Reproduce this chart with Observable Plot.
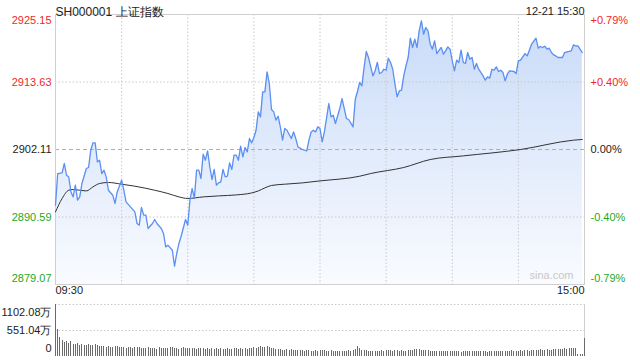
<!DOCTYPE html>
<html><head><meta charset="utf-8">
<script src="https://cdn.jsdelivr.net/npm/d3@7"></script>
<script src="https://cdn.jsdelivr.net/npm/@observablehq/plot@0.6"></script>
<style>
body{margin:0;background:#fff;font-family:"Liberation Sans",Arial,sans-serif;}
#wrap{position:relative;width:640px;height:360px;overflow:hidden;background:#fff}
#price{position:absolute;left:0;top:0}
#vol{position:absolute;left:0;top:300px}
</style></head><body><div id="wrap"><div id="price"></div><div id="vol"></div></div>
<script>
const title = "SH000001 上证指数";
const stamp = "12-21 15:30";
const watermark = "sina.com";
const prevClose = 2902.11;
const priceTicks = [2879.07, 2890.59, 2902.11, 2913.63, 2925.15];
const timeLabels = ["09:30", "15:00"];
const volTicks = [0, 551.04, 1102.08];

// minute index: 0 = 09:30, 120 = 11:30/13:00, 240 = 15:00
const minutes = [0,1,3,4,5,6,7,8,9,10,11,12,14,15,16,17,18,19,20,21,22,23,24,26,27,28,30,31,32,34,36,37,38,39,40,41,42,44,45,46,48,49,50,51,53,54,55,56,57,59,60,61,62,63,64,65,66,67,68,69,70,71,72,73,74,75,76,77,78,79,80,81,82,83,84,85,86,87,88,89,90,91,92,93,94,95,96,97,98,99,100,101,102,103,104,105,107,108,109,110,112,114,115,116,117,118,119,120,
121,122,124,125,126,127,129,130,132,133,135,136,137,138,139,140,141,142,144,145,146,147,148,149,150,151,152,153,154,155,156,157,158,159,160,161,162,163,164,165,166,167,168,169,170,171,172,173,175,176,177,178,179,180,181,182,183,184,185,186,187,188,189,190,191,192,194,195,196,197,198,199,200,201,202,203,204,205,206,208,209,210,211,212,213,214,215,216,218,219,220,221,222,223,224,225,226,227,228,229,230,231,233,234,235,236,237,239];
const prices = [2892.60,2898.01,2898.12,2899.72,2897.72,2897.43,2894.87,2894.02,2896.02,2893.46,2894.02,2896.31,2898.87,2899.04,2901.99,2903.24,2903.24,2899.99,2900.28,2898.01,2898.58,2897.43,2895.16,2894.31,2892.89,2894.87,2896.87,2895.16,2893.17,2892.31,2891.46,2889.48,2889.19,2892.21,2890.90,2890.90,2888.63,2889.48,2890.16,2889.48,2888.63,2887.77,2885.49,2885.78,2884.92,2882.19,2884.36,2886.07,2887.31,2890.16,2889.20,2893.46,2895.45,2893.75,2898.58,2898.58,2897.16,2901.31,2900.28,2901.87,2899.14,2896.99,2898.70,2896.02,2896.41,2896.58,2898.70,2897.43,2897.55,2899.82,2898.70,2901.14,2901.14,2900.28,2902.67,2900.85,2902.45,2901.70,2903.99,2903.24,2904.16,2905.40,2908.53,2907.67,2911.94,2911.94,2915.35,2913.37,2908.94,2908.53,2907.11,2907.79,2905.97,2903.70,2905.69,2905.40,2903.99,2905.11,2903.99,2902.55,2902.11,2901.87,2903.70,2905.11,2905.40,2905.11,2905.97,2905.69,
2903.41,2905.11,2909.96,2907.67,2907.96,2906.55,2909.11,2910.81,2907.40,2907.23,2905.97,2910.64,2912.01,2913.54,2912.96,2916.10,2918.84,2917.81,2914.67,2915.52,2916.96,2915.08,2915.25,2915.81,2915.64,2917.69,2916.96,2915.81,2913.25,2911.09,2912.11,2912.23,2914.67,2916.38,2917.81,2921.11,2919.52,2920.93,2919.52,2922.35,2924.06,2921.79,2922.93,2922.35,2920.08,2919.23,2920.64,2918.49,2919.52,2918.37,2918.94,2919.62,2919.23,2917.23,2915.52,2917.35,2916.96,2919.06,2916.96,2916.79,2918.66,2917.52,2917.81,2915.81,2916.79,2915.81,2914.67,2913.94,2914.50,2914.28,2915.81,2915.64,2916.21,2915.42,2915.64,2915.25,2913.82,2914.96,2915.52,2915.42,2915.08,2917.23,2917.35,2917.91,2918.49,2918.08,2919.06,2920.08,2921.11,2919.40,2919.69,2919.52,2919.74,2919.23,2919.40,2918.66,2918.26,2918.08,2917.81,2917.81,2917.81,2918.66,2918.84,2918.94,2919.96,2919.79,2919.79,2918.66];

const avgMinutes = [0,3,6,8,14,17,20,24,30,36,45,51,56,60,67,74,82,89,92,95,98,104,112,120,138,143,158,170,185,211,235,239];
const avgPrices = [2891.46,2893.75,2895.16,2895.28,2895.04,2895.73,2896.31,2896.48,2896.19,2895.85,2895.16,2894.60,2894.02,2893.75,2894.02,2894.19,2894.36,2894.70,2895.04,2895.56,2895.97,2896.19,2896.41,2896.75,2897.55,2898.01,2899.04,2900.40,2901.02,2902.11,2903.70,2903.82];

// per-minute volume (万), index = minute
const volumes = [1102.08,569,398,340,305,322,284,310,262,250,
268,240,252,236,228,245,230,238,252,226,
214,205,222,198,210,196,188,214,205,192,
186,200,178,192,184,176,190,182,196,170,
174,168,186,162,178,170,158,182,166,172,
176,160,184,190,168,174,158,170,182,164,
180,172,166,176,158,168,160,174,150,162,
156,164,148,170,152,160,146,158,166,150,
148,160,170,154,162,150,176,158,180,172,
186,178,196,204,198,188,210,192,176,168,
150,142,156,136,130,146,124,138,128,120,
132,118,126,114,122,130,116,108,124,112,
118,126,118,112,104,122,110,98,106,114,
102,96,108,120,114,130,142,214,160,132,
118,124,112,104,116,108,98,112,120,106,
118,130,124,112,134,120,116,128,110,104,
118,136,128,142,150,138,132,126,118,124,
112,108,116,102,96,110,104,98,112,106,
100,112,104,98,94,106,100,110,96,102,
108,98,104,112,106,100,94,108,114,104,
98,110,102,96,108,104,112,118,106,100,
114,122,116,128,120,112,134,126,118,130,
138,124,132,140,128,136,144,150,138,146,
156,160,152,166,172,164,180,44,38,40,
377];

const W = 640;
const FONT = "Liberation Sans, Arial, Helvetica, sans-serif";
const RED = "#f0272a", GREEN = "#1fa81f", DARK = "#222";
const priceData = minutes.map((m, i) => ({m, p: prices[i]}));
const avgData = avgMinutes.map((m, i) => ({m, p: avgPrices[i]}));
const gridMinutes = d3.range(30, 240, 30);
const pct = v => {
  const r = (v - prevClose) / prevClose * 100;
  const s = Math.abs(r).toFixed(2) + "%";
  return r > 1e-6 ? "+" + s : r < -1e-6 ? "-" + s : "0.00%";
};
const defs = () => {
  const g = d3.create("svg:defs");
  const lg = g.append("linearGradient").attr("id", "areaGrad")
    .attr("x1", 0).attr("x2", 0).attr("y1", 0).attr("y2", 1);
  lg.append("stop").attr("offset", "0%").attr("stop-color", "#c9dbf8");
  lg.append("stop").attr("offset", "100%").attr("stop-color", "#f9fbff");
  return g.node();
};
const axisCommon = {tickSize: 0, fontSize: 11, fontFamily: FONT, label: null};
const gridStyle = {stroke: "#c8c8c8", strokeOpacity: 1, strokeDasharray: "1.5,2"};

const price = Plot.plot({
  width: W, height: 300,
  marginLeft: 55, marginRight: 56, marginTop: 14, marginBottom: 16,
  style: {fontFamily: FONT, fontSize: "11px", background: "transparent", overflow: "visible"},
  x: {domain: [0, 240], axis: null, label: null},
  y: {domain: [priceTicks[0], priceTicks[4]], axis: null, label: null},
  marks: [
    defs,
    Plot.areaY(priceData, {x: "m", y1: priceTicks[0], y2: "p", fill: "url(#areaGrad)"}),
    Plot.gridX(gridMinutes, gridStyle),
    Plot.gridY([priceTicks[1], priceTicks[3]], gridStyle),
    Plot.ruleY([prevClose], {stroke: "#f29a6a", strokeDasharray: "4,3"}),
    Plot.frame({stroke: "#cfcfcf"}),
    Plot.line(avgData, {x: "m", y: "p", stroke: "#333", strokeWidth: 1, curve: "monotone-x"}),
    Plot.line(priceData, {x: "m", y: "p", stroke: "#5b8ff2", strokeWidth: 1.3}),
    // left axis
    Plot.axisY([priceTicks[4]], {...axisCommon, anchor: "left", tickPadding: 4, dy: 6, fill: RED, tickFormat: d => d.toFixed(2)}),
    Plot.axisY([priceTicks[3]], {...axisCommon, anchor: "left", tickPadding: 4, fill: RED, tickFormat: d => d.toFixed(2)}),
    Plot.axisY([priceTicks[2]], {...axisCommon, anchor: "left", tickPadding: 4, fill: DARK, tickFormat: d => d.toFixed(2)}),
    Plot.axisY([priceTicks[1]], {...axisCommon, anchor: "left", tickPadding: 4, fill: GREEN, tickFormat: d => d.toFixed(2)}),
    Plot.axisY([priceTicks[0]], {...axisCommon, anchor: "left", tickPadding: 4, dy: -6, fill: GREEN, tickFormat: d => d.toFixed(2)}),
    // right axis
    Plot.axisY([priceTicks[4]], {...axisCommon, anchor: "right", tickPadding: 6, dy: 6, fill: RED, tickFormat: pct}),
    Plot.axisY([priceTicks[3]], {...axisCommon, anchor: "right", tickPadding: 6, fill: RED, tickFormat: pct}),
    Plot.axisY([priceTicks[2]], {...axisCommon, anchor: "right", tickPadding: 6, fill: DARK, tickFormat: pct}),
    Plot.axisY([priceTicks[1]], {...axisCommon, anchor: "right", tickPadding: 6, fill: GREEN, tickFormat: pct}),
    Plot.axisY([priceTicks[0]], {...axisCommon, anchor: "right", tickPadding: 6, dy: -6, fill: GREEN, tickFormat: pct}),
    // texts
    Plot.text([title], {x: 0, frameAnchor: "top", dy: -7, textAnchor: "start", fontSize: 12, fill: DARK}),
    Plot.text([stamp], {x: 240, frameAnchor: "top", dy: -7, textAnchor: "end", fontSize: 11, fill: DARK}),
    Plot.text([timeLabels[0]], {x: 0, frameAnchor: "bottom", dy: 9, textAnchor: "start", fontSize: 11, fill: DARK}),
    Plot.text([timeLabels[1]], {x: 240, frameAnchor: "bottom", dy: 9, textAnchor: "end", fontSize: 11, fill: DARK}),
    Plot.text([watermark], {frameAnchor: "bottom-right", dx: -11, dy: -6, textAnchor: "end", fontSize: 11, fill: "#c8c8c8"})
  ]
});
document.getElementById("price").append(price);

const vol = Plot.plot({
  width: W, height: 60,
  marginLeft: 55, marginRight: 56, marginTop: 4, marginBottom: 4,
  style: {fontFamily: FONT, fontSize: "11px", background: "transparent", overflow: "visible"},
  x: {domain: [0, 240], axis: null, label: null},
  y: {domain: [0, volTicks[2]], axis: null, label: null},
  marks: [
    Plot.gridY([volTicks[1], volTicks[2]], gridStyle),
    Plot.ruleX([0, 240], {stroke: "#cfcfcf"}),
    Plot.ruleX(volumes, {x: (d, i) => i, y1: 0, y2: d => d, stroke: "#6a6a6a", strokeWidth: 1, shapeRendering: "crispEdges"}),
    Plot.axisY([volTicks[2]], {...axisCommon, anchor: "left", tickPadding: 4, dy: 8, fill: DARK, tickFormat: d => d.toFixed(2) + "万"}),
    Plot.axisY([volTicks[1]], {...axisCommon, anchor: "left", tickPadding: 4, fill: DARK, tickFormat: d => d.toFixed(2) + "万"}),
    Plot.axisY([volTicks[0]], {...axisCommon, anchor: "left", tickPadding: 4, dy: -8, fill: DARK, tickFormat: d => "0"})
  ]
});
document.getElementById("vol").append(vol);
</script>
</body></html>
